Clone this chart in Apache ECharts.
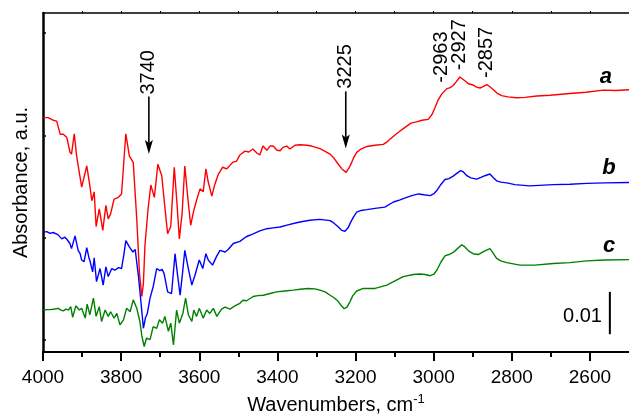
<!DOCTYPE html>
<html>
<head>
<meta charset="utf-8">
<script src="https://cdn.jsdelivr.net/npm/echarts@6/dist/echarts.min.js"></script>
<style>html,body{margin:0;padding:0;background:#fff}#c{width:629px;height:420px}</style>
</head>
<body>
<div id="c"></div>
<script>
// wavenumbers (cm-1) and absorbance values
const wnA = [3999,3987,3974,3965,3956,3948,3939,3931,3927,3920,3914,3901,3897,3888,3880,3875,3869,3864,3856,3847,3839,3833,3827,3818,3807,3799,3788,3779,3769,3760,3753,3747,3743,3739,3731,3724,3715,3706,3696,3689,3681,3673,3664,3657,3651,3644,3637,3629,3622,3614,3606,3598,3590,3583,3577,3568,3560,3551,3547,3540,3530,3521,3514,3505,3496,3483,3473,3463,3452,3445,3437,3427,3419,3411,3401,3393,3386,3376,3368,3355,3342,3325,3312,3291,3279,3265,3255,3244,3235,3224,3217,3210,3204,3197,3186,3171,3150,3129,3119,3112,3091,3069,3058,3053,3044,3030,3014,3004,2997,2989,2980,2967,2958,2950,2942,2933,2928,2920,2911,2899,2890,2881,2874,2864,2856,2847,2838,2826,2810,2788,2766,2736,2702,2651,2610,2566,2534,2500];
const absA = [0.0553,0.0553,0.0547,0.0545,0.0514,0.0514,0.0506,0.0472,0.0467,0.0515,0.0463,0.0389,0.0389,0.0439,0.0392,0.0357,0.0378,0.0296,0.0338,0.0287,0.0346,0.0314,0.0326,0.0361,0.0365,0.0373,0.0515,0.0463,0.0447,0.0314,0.0185,0.0131,0.0162,0.0252,0.0338,0.0394,0.0365,0.0443,0.0416,0.0350,0.0279,0.0296,0.0436,0.0350,0.0267,0.0326,0.0439,0.0361,0.0299,0.0334,0.0361,0.0385,0.0378,0.0432,0.0401,0.0368,0.0396,0.0420,0.0418,0.0436,0.0432,0.0441,0.0448,0.0450,0.0465,0.0474,0.0472,0.0479,0.0469,0.0465,0.0486,0.0476,0.0486,0.0486,0.0476,0.0475,0.0483,0.0486,0.0479,0.0488,0.0489,0.0488,0.0486,0.0480,0.0474,0.0467,0.0457,0.0443,0.0432,0.0424,0.0434,0.0447,0.0460,0.0471,0.0479,0.0485,0.0488,0.0490,0.0496,0.0502,0.0518,0.0533,0.0540,0.0544,0.0543,0.0547,0.0549,0.0561,0.0576,0.0594,0.0608,0.0621,0.0624,0.0629,0.0638,0.0649,0.0647,0.0640,0.0633,0.0630,0.0625,0.0623,0.0626,0.0631,0.0626,0.0619,0.0611,0.0605,0.0602,0.0600,0.0601,0.0604,0.0606,0.0610,0.0613,0.0618,0.0617,0.0619];

const wnB = [3999,3990,3982,3974,3962,3952,3944,3939,3931,3927,3918,3910,3905,3901,3895,3888,3882,3880,3873,3869,3863,3854,3846,3839,3833,3824,3816,3807,3799,3793,3788,3779,3770,3764,3756,3749,3743,3738,3733,3726,3718,3709,3701,3695,3690,3681,3671,3662,3656,3649,3643,3637,3628,3619,3611,3600,3591,3583,3577,3566,3556,3547,3534,3526,3513,3496,3480,3462,3445,3427,3411,3393,3373,3351,3335,3317,3291,3265,3255,3244,3235,3227,3219,3212,3205,3197,3186,3171,3150,3125,3103,3086,3069,3056,3039,3025,3009,2999,2992,2981,2971,2961,2950,2940,2931,2924,2915,2905,2890,2879,2869,2856,2849,2839,2828,2813,2792,2754,2694,2651,2608,2562,2500];
const absB = [0.0283,0.0284,0.0280,0.0282,0.0277,0.0267,0.0271,0.0266,0.0256,0.0244,0.0274,0.0240,0.0232,0.0217,0.0213,0.0246,0.0221,0.0216,0.0189,0.0222,0.0166,0.0197,0.0158,0.0201,0.0178,0.0197,0.0193,0.0199,0.0197,0.0230,0.0263,0.0248,0.0236,0.0242,0.0181,0.0115,0.0056,0.0080,0.0091,0.0127,0.0154,0.0197,0.0192,0.0195,0.0185,0.0142,0.0138,0.0232,0.0185,0.0134,0.0185,0.0240,0.0197,0.0158,0.0181,0.0217,0.0197,0.0232,0.0217,0.0205,0.0225,0.0240,0.0236,0.0242,0.0256,0.0261,0.0272,0.0279,0.0286,0.0291,0.0293,0.0295,0.0300,0.0305,0.0308,0.0311,0.0313,0.0310,0.0304,0.0295,0.0287,0.0285,0.0293,0.0307,0.0319,0.0330,0.0334,0.0336,0.0339,0.0342,0.0354,0.0359,0.0365,0.0369,0.0373,0.0371,0.0369,0.0374,0.0381,0.0396,0.0407,0.0409,0.0415,0.0422,0.0428,0.0425,0.0416,0.0411,0.0408,0.0412,0.0416,0.0420,0.0413,0.0404,0.0401,0.0399,0.0395,0.0392,0.0395,0.0396,0.0398,0.0399,0.0400];

const wnC = [3999,3990,3982,3974,3967,3961,3954,3948,3941,3935,3929,3924,3916,3907,3901,3892,3887,3880,3871,3864,3856,3850,3841,3833,3827,3818,3811,3803,3794,3786,3777,3769,3760,3752,3747,3741,3735,3726,3718,3709,3702,3694,3688,3679,3673,3666,3658,3651,3642,3635,3628,3619,3614,3607,3600,3590,3581,3573,3564,3555,3543,3534,3521,3514,3504,3496,3488,3479,3462,3450,3436,3419,3402,3381,3359,3342,3321,3304,3291,3278,3265,3255,3244,3236,3229,3222,3214,3207,3197,3180,3150,3120,3099,3078,3052,3035,3022,3009,2999,2992,2981,2971,2961,2950,2939,2928,2920,2910,2899,2886,2876,2866,2856,2849,2839,2828,2813,2779,2741,2694,2651,2608,2562,2500];
const absC = [0.0099,0.0100,0.0100,0.0101,0.0102,0.0103,0.0099,0.0097,0.0101,0.0099,0.0107,0.0082,0.0109,0.0099,0.0103,0.0080,0.0113,0.0088,0.0127,0.0084,0.0107,0.0072,0.0099,0.0084,0.0095,0.0080,0.0091,0.0064,0.0076,0.0103,0.0095,0.0123,0.0103,0.0072,0.0038,0.0013,0.0033,0.0029,0.0060,0.0056,0.0076,0.0068,0.0084,0.0049,0.0068,0.0017,0.0099,0.0068,0.0091,0.0127,0.0088,0.0072,0.0099,0.0084,0.0103,0.0080,0.0099,0.0091,0.0103,0.0084,0.0101,0.0106,0.0101,0.0106,0.0111,0.0115,0.0122,0.0121,0.0131,0.0133,0.0134,0.0138,0.0142,0.0144,0.0146,0.0148,0.0150,0.0149,0.0146,0.0142,0.0134,0.0128,0.0119,0.0109,0.0102,0.0106,0.0119,0.0133,0.0144,0.0150,0.0150,0.0158,0.0168,0.0178,0.0183,0.0184,0.0183,0.0180,0.0184,0.0193,0.0213,0.0227,0.0230,0.0235,0.0244,0.0253,0.0248,0.0238,0.0232,0.0230,0.0235,0.0240,0.0244,0.0235,0.0221,0.0215,0.0211,0.0205,0.0205,0.0209,0.0211,0.0215,0.0217,0.0218];

const majorTicks = [2600,2800,3000,3200,3400,3600,3800,4000];
const minorTicks = [2700,2900,3100,3300,3500,3700,3900];
const topTicks = [2600,2700,2800,2900,3000,3100,3200,3300,3400,3500,3600,3700,3800,3900];
const yTicks = [0.0028,0.0270,0.0511,0.0753];

// annotations: [text, wavenumber, absorbance of label centre]
const peakLabels = [['3740',3729,0.0660],['3225',3225,0.0674],['-2963',2981,0.0696],['-2927',2935,0.0725],['-2857',2864,0.0707]];
// arrows: [wavenumber, top absorbance, tip absorbance]
const arrows = [[3729,0.0603,0.0467],[3225,0.0615,0.0480]];
const curveLabels = [['a',2559,0.0650],['b',2551,0.0434],['c',2551,0.0251]];
const scaleBar = {wn:2549, y0:0.0042, y1:0.0142, text:'0.01', textWn:2619, textY:0.0084};

const FONT = '"Liberation Sans", Arial, sans-serif';
const zip = (w,a) => w.map((v,i)=>[v,a[i]]);

const chart = echarts.init(document.getElementById('c'), null, {renderer:'canvas'});
const xBase = {type:'value', min:2500, max:4000, inverse:true, splitLine:{show:false}};
const option = {
  animation:false,
  backgroundColor:'#fff',
  grid:{left:43, right:0, top:13, bottom:66, containLabel:false},
  xAxis:[
    Object.assign({}, xBase, {
      position:'bottom',
      axisLine:{lineStyle:{color:'#000', width:2}},
      axisTick:{customValues:majorTicks, length:9, lineStyle:{color:'#000', width:2}},
      axisLabel:{customValues:majorTicks, color:'#000', fontSize:19, fontFamily:FONT, margin:16, formatter:v => String(v)},
      name:'{n|Wavenumbers, cm}{s|-1}', nameLocation:'middle', nameGap:41,
      nameTextStyle:{rich:{
        n:{fontSize:20, fontFamily:FONT, color:'#000', lineHeight:24},
        s:{fontSize:13, fontFamily:FONT, color:'#000', verticalAlign:'top', lineHeight:13}
      }}
    }),
    Object.assign({}, xBase, {
      position:'bottom',
      axisLine:{show:false},
      axisTick:{customValues:minorTicks, length:5, lineStyle:{color:'#000', width:2}},
      axisLabel:{show:false}
    }),
    Object.assign({}, xBase, {
      position:'top',
      axisLine:{lineStyle:{color:'#000', width:1.5}},
      axisTick:{customValues:topTicks, length:2, lineStyle:{color:'#000', width:1}},
      axisLabel:{show:false}
    })
  ],
  yAxis:{
    type:'value', min:0, max:0.08, position:'left',
    axisLine:{show:true, lineStyle:{color:'#000', width:2.5}},
    axisTick:{show:true, inside:true, customValues:yTicks, length:3, lineStyle:{color:'#000', width:1.5}},
    axisLabel:{show:false},
    splitLine:{show:false},
    name:'Absorbance, a.u.', nameLocation:'middle', nameGap:12, nameRotate:90,
    nameTextStyle:{fontSize:20, fontFamily:FONT, color:'#000'}
  },
  series:[
    {name:'a', type:'line', xAxisIndex:0, data:zip(wnA,absA), showSymbol:false, symbol:'none', lineStyle:{color:'#ff0000', width:1.4}, z:3},
    {name:'b', type:'line', xAxisIndex:0, data:zip(wnB,absB), showSymbol:false, symbol:'none', lineStyle:{color:'#0000ff', width:1.4}, z:4},
    {name:'c', type:'line', xAxisIndex:0, data:zip(wnC,absC), showSymbol:false, symbol:'none', lineStyle:{color:'#008000', width:1.4}, z:2}
  ]
};
chart.setOption(option);

const toPx = (w,a) => chart.convertToPixel({xAxisIndex:0, yAxisIndex:0}, [w,a]);
const g = [];
peakLabels.forEach(([t,w,a]) => {
  const p = toPx(w,a);
  g.push({type:'text', x:p[0], y:p[1], rotation:Math.PI/2, z:10,
    style:{text:t, fill:'#000', font:'20px ' + FONT, align:'center', verticalAlign:'middle'}});
});
arrows.forEach(([w,a0,a1]) => {
  const p0 = toPx(w,a0), p1 = toPx(w,a1);
  const head = 14, hw = 4;
  g.push({type:'line', z:10, shape:{x1:p0[0], y1:p0[1], x2:p1[0], y2:p1[1]-head+3}, style:{stroke:'#000', lineWidth:1.6}});
  g.push({type:'polygon', z:10, shape:{points:[[p1[0],p1[1]],[p1[0]-hw,p1[1]-head],[p1[0],p1[1]-head+3],[p1[0]+hw,p1[1]-head]]}, style:{fill:'#000'}});
});
curveLabels.forEach(([t,w,a]) => {
  const p = toPx(w,a);
  g.push({type:'text', x:p[0], y:p[1], z:10,
    style:{text:t, fill:'#000', font:'italic bold 22px ' + FONT, align:'center', verticalAlign:'middle'}});
});
{
  const p0 = toPx(scaleBar.wn, scaleBar.y0), p1 = toPx(scaleBar.wn, scaleBar.y1);
  g.push({type:'line', z:10, shape:{x1:p0[0], y1:p0[1], x2:p1[0], y2:p1[1]}, style:{stroke:'#000', lineWidth:2}});
  const pt = toPx(scaleBar.textWn, scaleBar.textY);
  g.push({type:'text', x:pt[0], y:pt[1], z:10,
    style:{text:scaleBar.text, fill:'#000', font:'20px ' + FONT, align:'center', verticalAlign:'middle'}});
}
chart.setOption({graphic:g});
</script>
</body>
</html>
